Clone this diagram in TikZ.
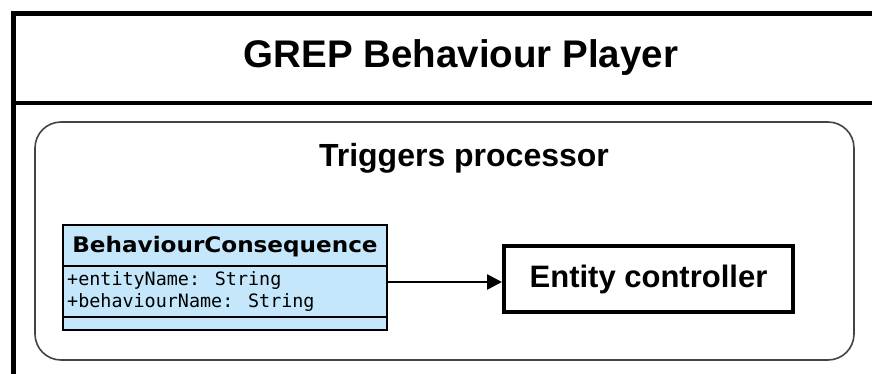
\documentclass[tikz,border=0pt]{standalone}
\usepackage{fontspec}
\usetikzlibrary{arrows.meta}
\setmainfont{Liberation Sans}
\newfontfamily\classfont{DejaVu Sans}[FakeStretch=1.08]
\newfontfamily\attrfont{DejaVu Sans Mono}
\definecolor{classblue}{HTML}{C4E7FB}
\definecolor{framegray}{HTML}{444444}
\tikzset{
  heading/.style={font=\fontsize{38.5}{42}\bfseries\selectfont, anchor=base, inner sep=0pt},
  subheading/.style={font=\fontsize{32}{35}\bfseries\selectfont, anchor=base, inner sep=0pt},
  classname/.style={font=\fontsize{21.4}{24}\classfont\bfseries\selectfont, anchor=base, inner sep=0pt},
  attr/.style={font=\fontsize{18.4}{22}\attrfont\selectfont, anchor=base west, inner sep=0pt},
  component/.style={draw, line width=4pt, fill=white, minimum width=289pt, minimum height=66pt,
    font=\fontsize{31}{34}\bfseries\selectfont, inner sep=0pt},
  flow/.style={line width=2.6pt, -{Triangle[length=15pt,width=15pt]}}
}
\begin{document}
\begin{tikzpicture}[x=1pt,y=-1pt]
\useasboundingbox (0,0) rectangle (872,374);
\clip (0,0) rectangle (872,374);
\fill[white] (0,0) rectangle (872,374);

% player frame with its header band
\draw[line width=4.5pt] (890,13.5) -- (13.5,13.5) -- (13.5,390);
\draw[line width=4.5pt] (13.5,103) -- (890,103);
\node[heading] (title) at (461,68) {GREP Behaviour Player};

% triggers processor container
\draw[framegray, line width=1.6pt, rounded corners=26pt] (35,122) rectangle (854,360);
\node[subheading] (proc) at (464,166.5) {Triggers processor};

% UML class
\draw[fill=classblue, line width=2pt] (63,225) rectangle (387,330);
\coordinate (classE) at (387,282);
\draw[line width=2pt] (63,266) -- (387,266);
\draw[line width=2pt] (63,317) -- (387,317);
\node[classname] (cname) at (225,252) {BehaviourConsequence};
\node[attr] (a1) at (67,285) {+entityName: String};
\node[attr] (a2) at (67,307.5) {+behaviourName: String};

% entity controller
\node[component] (ent) at (648.5,279) {Entity controller};

\draw[flow] (classE) -- (ent.west |- classE);
\end{tikzpicture}
\end{document}
